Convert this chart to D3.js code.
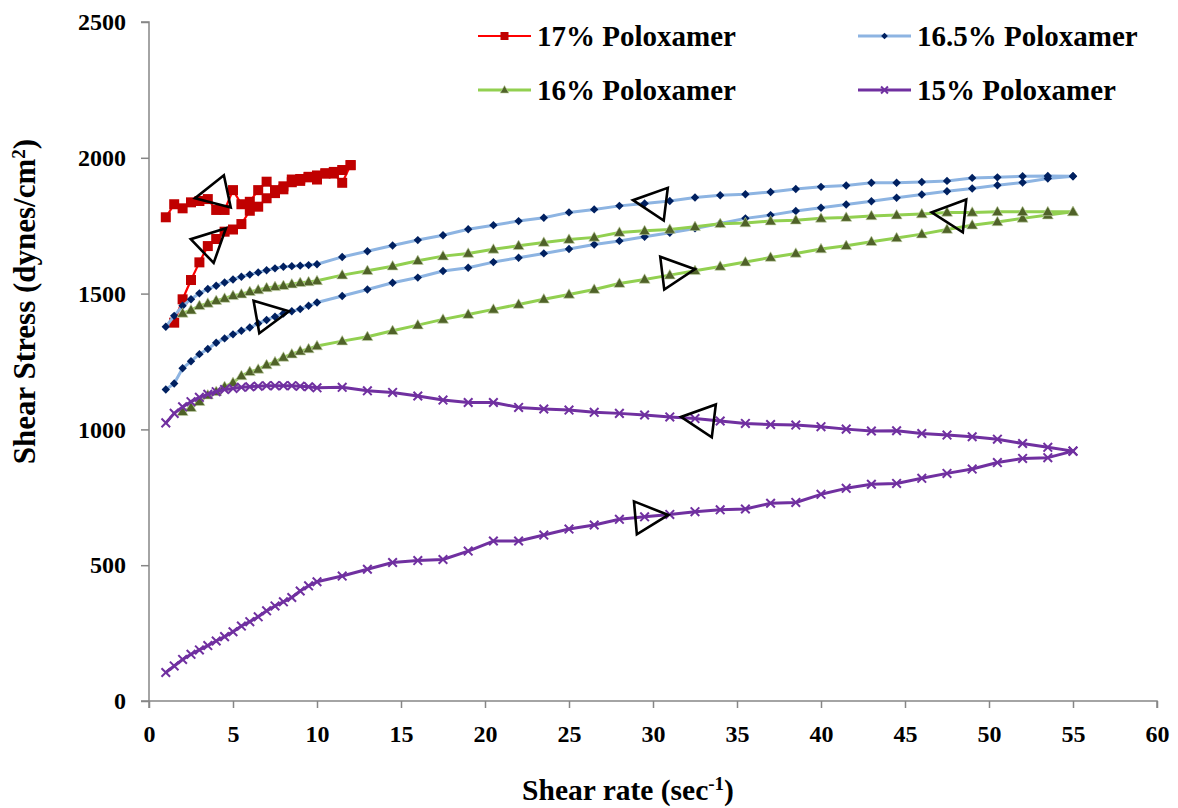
<!DOCTYPE html>
<html>
<head>
<meta charset="utf-8">
<script src="https://cdn.jsdelivr.net/npm/d3@7"></script>
<style>
  html, body { margin: 0; padding: 0; background: #ffffff; }
  svg { display: block; }
  svg text { font-family: "Liberation Serif", "Times New Roman", Times, Tinos, "DejaVu Serif", serif !important; font-weight: bold; fill: #000; }
</style>
</head>
<body>
<svg id="chart" width="1178" height="808"></svg>
<script>
// Shear rates (sec^-1) of the ramp: fine steps to 10, then steps of 1.5 to 55
const rates = [1, 1.5, 2, 2.5, 3, 3.5, 4, 4.5, 5, 5.5, 6, 6.5, 7, 7.5, 8, 8.5, 9, 9.5, 10,
  11.5, 13, 14.5, 16, 17.5, 19, 20.5, 22, 23.5, 25, 26.5, 28, 29.5, 31, 32.5, 34, 35.5,
  37, 38.5, 40, 41.5, 43, 44.5, 46, 47.5, 49, 50.5, 52, 53.5, 55];
const ratesFrom2 = rates.slice(2);
// 17% gel was only sheared up to 12 sec^-1
const ratesShort = [1, 1.5, 2, 2.5, 3, 3.5, 4, 4.5, 5, 5.5, 6, 6.5, 7, 7.5, 8, 8.5, 9, 9.5, 10, 10.5, 11, 11.5, 12];
const ratesShortUp = ratesShort.slice(1);

// Shear stress (dynes/cm^2), up-ramp and down-ramp, listed by increasing shear rate
const p17Up = [1393, 1479, 1550, 1615, 1675, 1701, 1728, 1736, 1756, 1805, 1820, 1851, 1870, 1895,
  1910, 1922, 1928, 1935, 1943, 1948, 1955, 1973];
const p17Down = [1781, 1829, 1814, 1836, 1841, 1848, 1808, 1808, 1881, 1829, 1838, 1881, 1912, 1881,
  1884, 1920, 1915, 1930, 1920, 1942, 1942, 1908, 1973];

const p165Up = [1147, 1169, 1225, 1251, 1277, 1296, 1319, 1335, 1350, 1363, 1375, 1390, 1403, 1415,
  1427, 1435, 1443, 1455, 1467, 1491, 1515, 1540, 1559, 1583, 1595, 1616, 1632, 1648, 1664, 1681,
  1694, 1709, 1724, 1740, 1758, 1777, 1789, 1804, 1816, 1828, 1840, 1853, 1865, 1877, 1887, 1899,
  1909, 1924, 1932];
const p165Down = [1378, 1418, 1455, 1479, 1501, 1517, 1529, 1541, 1552, 1562, 1570, 1578, 1586, 1593,
  1599, 1601, 1603, 1605, 1608, 1635, 1656, 1677, 1697, 1715, 1737, 1752, 1767, 1779, 1799, 1810,
  1823, 1832, 1841, 1854, 1862, 1866, 1874, 1885, 1893, 1898, 1908, 1908, 1911, 1915, 1926, 1928,
  1932, 1933, 1932];

const p16Up = [1065, 1080, 1102, 1126, 1139, 1157, 1172, 1197, 1212, 1221, 1237, 1248, 1265, 1277,
  1288, 1296, 1307, 1325, 1341, 1363, 1384, 1405, 1423, 1442, 1460, 1479, 1497, 1515, 1537, 1552,
  1568, 1584, 1600, 1616, 1633, 1648, 1664, 1676, 1691, 1705, 1719, 1736, 1752, 1764, 1777, 1789, 1801];
const p16Down = [1427, 1439, 1455, 1464, 1474, 1482, 1492, 1498, 1507, 1513, 1521, 1525, 1529, 1535,
  1540, 1543, 1547, 1568, 1584, 1601, 1621, 1638, 1648, 1663, 1676, 1688, 1699, 1707, 1725, 1731,
  1736, 1746, 1757, 1760, 1767, 1770, 1777, 1780, 1786, 1789, 1793, 1799, 1799, 1801, 1801, 1801, 1801];

const p15Up = [105, 129, 153, 172, 188, 204, 221, 237, 255, 276, 292, 310, 332, 350, 365, 381, 405,
  424, 439, 460, 485, 510, 517, 521, 552, 589, 589, 611, 633, 648, 669, 678, 687, 697, 704, 707,
  728, 731, 761, 783, 798, 801, 820, 838, 854, 878, 893, 896, 920];
const p15Down = [1024, 1059, 1083, 1102, 1118, 1129, 1139, 1147, 1151, 1155, 1157, 1159, 1161, 1161,
  1161, 1161, 1159, 1157, 1153, 1155, 1142, 1136, 1123, 1108, 1099, 1099, 1081, 1075, 1071, 1063,
  1059, 1053, 1046, 1040, 1031, 1022, 1018, 1016, 1010, 1001, 994, 995, 985, 979, 973, 964, 948,
  934, 920];

const seriesNames = ["17% Poloxamer", "16.5% Poloxamer", "16% Poloxamer", "15% Poloxamer"];
const xTicks = [0, 5, 10, 15, 20, 25, 30, 35, 40, 45, 50, 55, 60];
const yTicks = [0, 500, 1000, 1500, 2000, 2500];

// Direction-of-ramp arrowheads: tip position (shear rate, stress) and heading in degrees
const arrowTipRate = [2.74, 4.58, 8.33, 28.81, 32.5, 46.59, 31.67, 30.91];
const arrowTipStress = [1851, 1741, 1435, 1844, 1590, 1799, 1046, 685];
const arrowHeading = [168, -44, -10, 187, -7, 186, 187, -5];

const FONT = '"Liberation Serif", "Times New Roman", Times, Tinos, "DejaVu Serif", serif';

const svg = d3.select("#chart");
const x = d3.scaleLinear().domain([0, 60]).range([149, 1157]);
const y = d3.scaleLinear().domain([0, 2500]).range([701, 22]);

const zip = (xs, ys) => xs.map((v, i) => [v, ys[i]]);
// Each hysteresis loop: up-ramp followed by the down-ramp back to low shear
const loop = (xu, yu, xd, yd) => zip(xu, yu).concat(zip(xd, yd).reverse());

const series = [
  { name: seriesNames[0], pts: loop(ratesShortUp, p17Up, ratesShort, p17Down), line: "#ff0000", lw: 2.2, mark: "#c00000", shape: "square" },
  { name: seriesNames[1], pts: loop(rates, p165Up, rates, p165Down), line: "#8db4e2", lw: 3, mark: "#002060", shape: "diamond" },
  { name: seriesNames[2], pts: loop(ratesFrom2, p16Up, ratesFrom2, p16Down), line: "#92d050", lw: 3, mark: "#4f6228", shape: "triangle" },
  { name: seriesNames[3], pts: loop(rates, p15Up, rates, p15Down), line: "#7030a0", lw: 3, mark: "#7030a0", shape: "cross" }
];

// Axes
const axisColor = "#868686";
const tickFont = "24px";
const yAxis = svg.append("g").attr("transform", `translate(${x(0)},0)`)
  .call(d3.axisLeft(y).tickValues(yTicks).tickSize(8).tickPadding(15).tickFormat(d3.format("d")));
const xAxis = svg.append("g").attr("transform", `translate(0,${y(0)})`)
  .call(d3.axisBottom(x).tickValues(xTicks).tickSize(7).tickPadding(17).tickFormat(d3.format("d")));
[yAxis, xAxis].forEach(g => {
  g.attr("font-family", null).attr("font-size", null);
  g.select(".domain").attr("stroke", axisColor).attr("stroke-width", 1.5);
  g.selectAll(".tick line").attr("stroke", axisColor).attr("stroke-width", 1.5);
  g.selectAll(".tick text")
    .style("font-family", FONT).style("font-weight", "bold")
    .style("font-size", tickFont).style("fill", "#000");
});
yAxis.select(".domain").attr("d", `M-8,${y(2500)}H0V${y(0)}H-8`);
xAxis.select(".domain").attr("d", `M${x(0)},7V0H${x(60)}V7`);

// Axis titles
const yTitle = svg.append("text")
  .attr("transform", `translate(35,${(y(0) + y(2500)) / 2 - 60}) rotate(-90)`)
  .attr("text-anchor", "middle").style("font-size", "31px");
yTitle.append("tspan").text("Shear Stress (dynes/cm");
yTitle.append("tspan").attr("baseline-shift", "super").style("font-size", "19px").text("2");
yTitle.append("tspan").text(")");

const xTitle = svg.append("text")
  .attr("x", 628).attr("y", 800)
  .attr("text-anchor", "middle").style("font-size", "29.5px");
xTitle.append("tspan").text("Shear rate (sec");
xTitle.append("tspan").attr("baseline-shift", "super").style("font-size", "19px").text("-1");
xTitle.append("tspan").text(")");

// Marker drawing
function drawMarker(sel, shape, color, scale) {
  const s = scale || 1;
  if (shape === "square") {
    sel.append("rect").attr("x", -5 * s).attr("y", -5 * s).attr("width", 10 * s).attr("height", 10 * s).attr("fill", color);
  } else if (shape === "diamond") {
    const r = 4.2 * s;
    sel.append("path").attr("d", `M0,${-r}L${r},0L0,${r}L${-r},0Z`).attr("fill", color);
  } else if (shape === "triangle") {
    const w = 5.5 * s, h = 9.5 * s;
    sel.append("path").attr("d", `M0,${-h * 0.6}L${w},${h * 0.4}L${-w},${h * 0.4}Z`)
      .attr("fill", color).attr("stroke", "#c4d3a8").attr("stroke-width", 0.6);
  } else if (shape === "cross") {
    const r = 4.3 * s;
    sel.append("path").attr("d", `M${-r},${-r}L${r},${r}M${-r},${r}L${r},${-r}`)
      .attr("stroke", color).attr("stroke-width", 2).attr("fill", "none");
  }
}

const line = d3.line().x(d => x(d[0])).y(d => y(d[1]));

series.forEach(s => {
  const g = svg.append("g");
  g.append("path").datum(s.pts).attr("d", line)
    .attr("fill", "none").attr("stroke", s.line).attr("stroke-width", s.lw)
    .attr("stroke-linejoin", "round");
  g.selectAll("g.m").data(s.pts).join("g").attr("class", "m")
    .attr("transform", d => `translate(${x(d[0])},${y(d[1])})`)
    .each(function () { drawMarker(d3.select(this), s.shape, s.mark); });
});

// Ramp-direction arrowheads (open triangles)
const arrowLen = 33, arrowHalf = 16.5;
svg.append("g").selectAll("path")
  .data(arrowTipRate.map((r, i) => ({ r, s: arrowTipStress[i], a: arrowHeading[i] })))
  .join("path")
  .attr("transform", d => `translate(${x(d.r)},${y(d.s)}) rotate(${d.a})`)
  .attr("d", `M0,0L${-arrowLen},${-arrowHalf}L${-arrowLen},${arrowHalf}Z`)
  .attr("fill", "none").attr("stroke", "#000").attr("stroke-width", 2.6)
  .attr("stroke-linejoin", "miter");

// Legend, two columns by two rows
const legendX = [478, 858];
const legendY = [36, 90];
series.forEach((s, i) => {
  const lx = legendX[i % 2], ly = legendY[Math.floor(i / 2)];
  const g = svg.append("g").attr("transform", `translate(${lx},${ly})`);
  g.append("line").attr("x1", 0).attr("x2", 53).attr("y1", 0).attr("y2", 0)
    .attr("stroke", s.line).attr("stroke-width", s.lw);
  const m = g.append("g").attr("transform", "translate(26.5,0)");
  drawMarker(m, s.shape, s.mark, 0.8);
  g.append("text").attr("x", 59).attr("y", 10).style("font-size", "29px").text(s.name);
});
</script>
</body>
</html>
